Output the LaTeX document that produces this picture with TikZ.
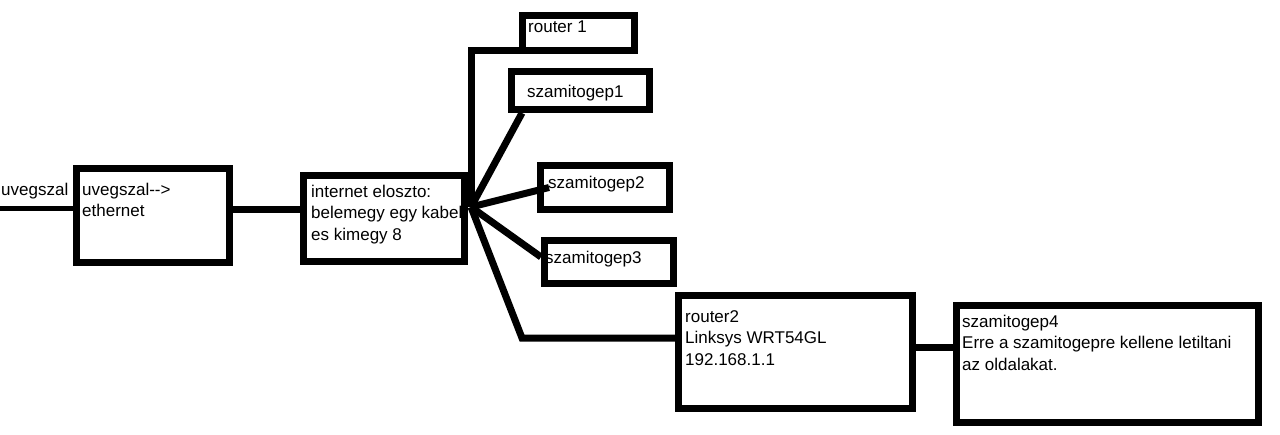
\documentclass[tikz,border=0pt]{standalone}
\usepackage{fontspec}
\setmainfont{Liberation Sans}
\begin{document}
\begin{tikzpicture}[x=1pt,y=-1pt,
  box/.style={draw=black,line width=7pt,fill=white,rectangle,inner sep=0pt},
  lbl/.style={anchor=base west,inner sep=0pt,align=left,font=\fontsize{17}{21.5}\selectfont},
  wire/.style={line width=7pt,line cap=butt,line join=miter},
  thin wire/.style={line width=5pt}]
\useasboundingbox (0,0) rectangle (1280,434);
% boxes (pixel coordinates, centres)
\node[box,minimum width=153pt,minimum height=94pt] (conv) at (153,215.5) {};
\node[box,minimum width=161pt,minimum height=86pt] (dist) at (384,218.5) {};
\node[box,minimum width=112pt,minimum height=35pt] (r1) at (578.5,33) {};
\node[box,minimum width=138pt,minimum height=38pt] (s1) at (580.5,90.5) {};
\node[box,minimum width=129pt,minimum height=44pt] (s2) at (605,187.5) {};
\node[box,minimum width=129pt,minimum height=43pt] (s3) at (609,262) {};
\node[box,minimum width=234pt,minimum height=113pt] (r2) at (795.5,352) {};
\node[box,minimum width=302pt,minimum height=117pt] (s4) at (1107.5,364) {};
% connectors
\coordinate (src) at (0,208);
\coordinate (hub) at (471,207);
\coordinate (bend) at (522,338);
\draw[thin wire] (src) -- (src -| conv.west);
\draw[wire] ([yshift=6.5pt]conv.east) -- ([yshift=6.5pt]conv.east -| dist.west);
\draw[wire] (hub) |- ([yshift=4pt]r1.south west);
\draw[wire] (hub) -- ([xshift=14pt]s1.south west);
\draw[wire] (hub) -- ([xshift=12pt]s2.west);
\draw[wire] (hub) -- ([yshift=5pt]s3.west);
\draw[wire] (hub) -- (bend) -- (bend -| r2.west);
\draw[wire] ([yshift=5pt]r2.east) -- ([yshift=5pt]r2.east -| s4.west);
% texts (anchor is the baseline of the last line)
\node[lbl] (tin) at (1,195) {uvegszal};
\node[lbl] (tconv) at (82,216.5) {uvegszal-{}-{}>\\ethernet};
\node[lbl] (tdist) at (311,240) {internet eloszto:\\belemegy egy kabel\textquotesingle\\es kimegy 8};
\node[lbl] (tr1) at (528,32) {router 1};
\node[lbl] (ts1) at (527,97) {szamitogep1};
\node[lbl] (ts2) at (548,188) {szamitogep2};
\node[lbl] (ts3) at (545,263) {szamitogep3};
\node[lbl] (tr2) at (685,365) {router2\\Linksys WRT54GL\\192.168.1.1};
\node[lbl] (ts4) at (962,370) {szamitogep4\\Erre a szamitogepre kellene letiltani\\az oldalakat.};
\end{tikzpicture}
\end{document}
